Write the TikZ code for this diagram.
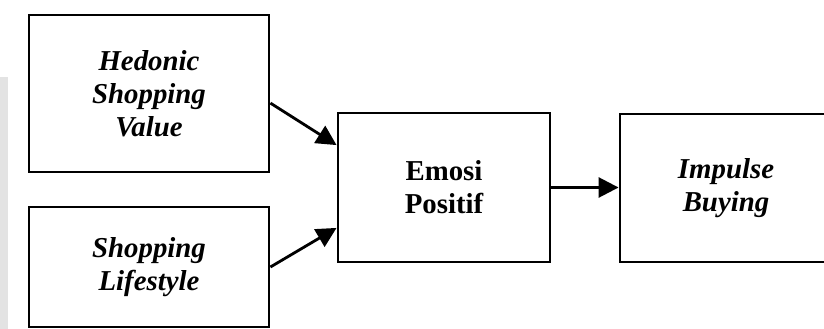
\documentclass[tikz,border=0pt]{standalone}
\usepackage{fontspec}
\setmainfont{Liberation Serif}
\usetikzlibrary{arrows.meta, positioning, calc}

\begin{document}
\begin{tikzpicture}[
  x=0.025cm, y=-0.025cm,
  var/.style={rectangle,draw=black,line width=2pt,fill=white,align=center,font=\fontsize{20.5}{23.5}\selectfont\bfseries,inner sep=4pt},
  link/.style={-{Triangle[length=0.5cm,width=0.5cm]},line width=2pt,black}
]
  \clip (0,0) rectangle (824,329);
  % strip on the left edge
  \fill[gray!22] (0,77) rectangle (8,329);
  \node[var,minimum width=6cm,minimum height=3.925cm](hsv) at (149,93.5) {\itshape Hedonic\\\itshape Shopping\\\itshape Value};
  \node[var,minimum width=6cm,minimum height=3cm](sl) at (149,267) {\itshape Shopping\\\itshape Lifestyle};
  \node[var,minimum width=5.3cm,minimum height=3.725cm](emo) at (444,187.5) {Emosi\\Positif};
  \node[var,minimum width=5.3cm,minimum height=3.7cm](imp) at (726,188) {\itshape Impulse\\\itshape Buying};
  \draw[link]([yshift=-0.24cm]hsv.east) -- ([yshift=1.06cm]emo.west);
  \draw[link](sl.east) -- ([yshift=-1.01cm]emo.west);
  \draw[link](emo.east) -- (imp.west |- emo.east);
\end{tikzpicture}
\end{document}
